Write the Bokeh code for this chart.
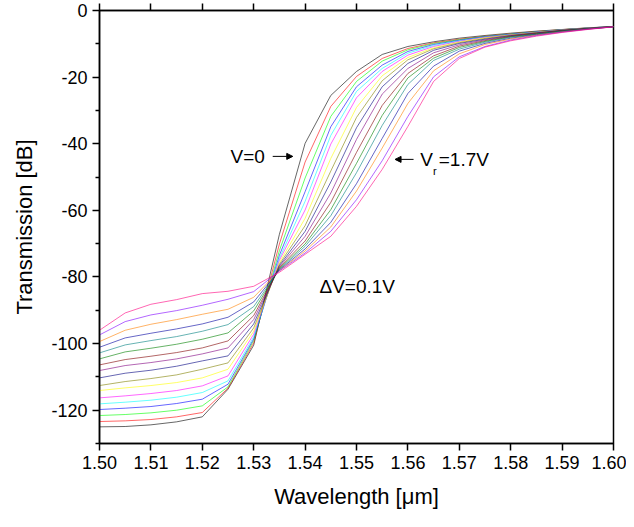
from bokeh.plotting import figure
from bokeh.models import (Range1d, FixedTicker, Arrow, NormalHead, Label, LinearAxis)
from bokeh.embed import file_html
from bokeh.resources import INLINE

# ---------------- data ----------------
wavelength = [1.500, 1.505, 1.510, 1.515, 1.520, 1.525, 1.530, 1.535, 1.540, 1.545,
              1.550, 1.555, 1.560, 1.565, 1.570, 1.575, 1.580, 1.585, 1.590, 1.595, 1.600]

voltages = [0.0, 0.1, 0.2, 0.3, 0.4, 0.5, 0.6, 0.7, 0.8, 0.9, 1.0, 1.1, 1.2, 1.3, 1.4, 1.5, 1.6]

t_v00 = [-125.0, -124.9, -124.4, -123.5, -122.0, -113.7, -100.5, -67.2, -39.9, -25.5, -18.3, -13.2, -10.8, -9.4, -8.3, -7.5, -6.8, -6.2, -5.7, -5.2, -4.8]
t_v01 = [-123.4, -123.2, -122.8, -122.0, -120.7, -113.4, -99.8, -70.1, -45.5, -28.8, -19.8, -14.4, -11.4, -9.7, -8.6, -7.7, -7.0, -6.3, -5.74, -5.25, -4.8]
t_v02 = [-121.6, -121.3, -120.8, -120.0, -118.7, -113.0, -99.1, -72.1, -50.3, -31.8, -21.3, -15.2, -11.8, -9.9, -8.75, -7.76, -7.06, -6.37, -5.77, -5.27, -4.8]
t_v03 = [-119.8, -119.4, -118.9, -118.0, -116.7, -112.2, -98.6, -73.5, -54.4, -34.9, -22.9, -16.4, -12.3, -10.2, -8.93, -7.85, -7.14, -6.43, -5.80, -5.29, -4.8]
t_v04 = [-118.1, -117.6, -117.0, -116.1, -114.7, -111.2, -98.0, -74.4, -57.3, -37.5, -24.3, -17.4, -12.8, -10.5, -9.09, -7.93, -7.20, -6.48, -5.82, -5.30, -4.8]
t_v05 = [-116.3, -115.7, -115.0, -114.1, -112.7, -109.7, -97.2, -75.0, -59.9, -40.1, -26.2, -18.3, -13.4, -10.8, -9.25, -8.02, -7.27, -6.53, -5.85, -5.32, -4.8]
t_v06 = [-114.1, -113.3, -112.6, -111.7, -110.3, -107.7, -96.3, -75.7, -62.4, -44.4, -29.1, -19.6, -14.1, -11.2, -9.46, -8.20, -7.36, -6.60, -5.89, -5.34, -4.85]
t_v07 = [-112.6, -111.4, -110.5, -109.4, -107.7, -105.8, -95.3, -76.2, -64.6, -48.2, -32.1, -21.1, -14.8, -11.5, -9.67, -8.38, -7.45, -6.67, -5.92, -5.36, -4.85]
t_v08 = [-110.3, -108.9, -108.0, -106.8, -105.2, -103.7, -94.1, -76.6, -66.3, -51.5, -35.2, -22.9, -15.9, -11.95, -9.9, -8.60, -7.55, -6.74, -5.96, -5.38, -4.85]
t_v09 = [-108.1, -106.6, -105.7, -104.6, -103.1, -101.3, -92.8, -76.9, -67.8, -54.8, -38.7, -25.1, -17.4, -12.7, -10.3, -8.80, -7.66, -6.83, -6.00, -5.41, -4.85]
t_v10 = [-106.4, -104.8, -103.8, -102.7, -101.3, -99.2, -91.6, -77.2, -69.2, -57.6, -42.6, -28.5, -18.9, -13.6, -10.7, -9.05, -7.79, -6.93, -6.08, -5.44, -4.85]
t_v11 = [-104.6, -102.5, -101.4, -100.2, -98.7, -96.8, -90.2, -77.5, -70.1, -59.8, -45.9, -31.5, -20.25, -14.3, -11.1, -9.28, -7.90, -7.02, -6.14, -5.47, -4.85]
t_v12 = [-102.8, -100.4, -99.1, -97.9, -96.3, -94.3, -88.9, -77.7, -70.8, -61.6, -48.7, -34.5, -22.2, -15.0, -11.6, -9.52, -8.04, -7.12, -6.21, -5.49, -4.9]
t_v13 = [-101.1, -98.3, -96.9, -95.6, -94.1, -92.1, -87.5, -77.9, -71.6, -63.6, -52.0, -38.4, -24.9, -16.7, -12.2, -9.87, -8.32, -7.25, -6.31, -5.54, -4.9]
t_v14 = [-99.4, -96.0, -94.2, -92.8, -91.2, -89.7, -86.1, -78.1, -72.2, -65.0, -54.2, -41.3, -27.9, -18.1, -13.0, -10.2, -8.56, -7.36, -6.38, -5.57, -4.9]
t_v15 = [-97.4, -93.4, -91.4, -90.1, -88.5, -86.7, -84.4, -78.2, -72.8, -66.3, -56.8, -45.1, -31.8, -19.9, -13.9, -10.8, -8.88, -7.52, -6.50, -5.62, -4.9]
t_v16 = [-96.0, -90.8, -88.2, -86.8, -85.0, -84.3, -82.8, -78.6, -73.2, -67.8, -58.8, -47.7, -34.8, -21.3, -14.4, -11.0, -9.10, -7.70, -6.60, -5.70, -4.9]

series = [t_v00, t_v01, t_v02, t_v03, t_v04, t_v05, t_v06, t_v07, t_v08, t_v09,
          t_v10, t_v11, t_v12, t_v13, t_v14, t_v15, t_v16]

colors = ["#000000", "#FF0000", "#00FF00", "#0000FF", "#00FFFF", "#FF00FF", "#FFFF00",
          "#808000", "#000080", "#800080", "#800000", "#008000", "#008080", "#0000A0",
          "#FF8000", "#8000FF", "#FF0080"]

x_ticks = [1.50, 1.51, 1.52, 1.53, 1.54, 1.55, 1.56, 1.57, 1.58, 1.59, 1.60]
y_ticks = [-120, -100, -80, -60, -40, -20, 0]
y_minor = [-130, -110, -90, -70, -50, -30, -10]

FONT = "Liberation Sans"

p = figure(width=626, height=519, output_backend="svg", toolbar_location=None,
           x_range=Range1d(1.5, 1.6), y_range=Range1d(-130, 0),
           min_border_left=99, min_border_right=13, min_border_top=10, min_border_bottom=76)

for ys, c in zip(series, colors):
    p.line(wavelength, ys, line_color=c, line_width=1, line_alpha=0.6)

p.xgrid.visible = False
p.ygrid.visible = False
p.outline_line_color = "black"
p.outline_line_width = 1.5
p.background_fill_color = "white"
p.border_fill_color = "white"

xa = p.xaxis[0]
xa.ticker = FixedTicker(ticks=x_ticks)
xa.major_label_overrides = {t: f"{t:.2f}" for t in x_ticks}
xa.axis_label = "Wavelength [μm]"
ya = p.yaxis[0]
ya.ticker = FixedTicker(ticks=y_ticks, minor_ticks=y_minor)
ya.major_label_overrides = {t: str(t) for t in y_ticks}
ya.axis_label = "Transmission [dB]"

for ax in (xa, ya):
    ax.axis_line_color = "black"
    ax.axis_line_width = 1.5
    ax.major_tick_line_color = "black"
    ax.major_tick_line_width = 1.5
    ax.minor_tick_line_color = "black"
    ax.minor_tick_line_width = 1.5
    ax.major_tick_in = 0
    ax.major_tick_out = 7
    ax.minor_tick_in = 0
    ax.minor_tick_out = 4
    ax.major_label_text_font = FONT
    ax.major_label_text_font_size = "18px"
    ax.major_label_text_color = "black"
    ax.axis_label_text_font = FONT
    ax.axis_label_text_font_size = "22px"
    ax.axis_label_text_font_style = "normal"
    ax.axis_label_text_color = "black"
    ax.major_label_standoff = 5

xa.minor_tick_out = 0
xa.axis_label_standoff = 12
ya.axis_label_standoff = 11

# top axis: ticks only, no labels
top = LinearAxis(ticker=FixedTicker(ticks=x_ticks),
                 major_label_overrides={t: "" for t in x_ticks},
                 major_label_text_font_size="0px", major_label_standoff=0,
                 axis_line_color="black", axis_line_width=1.5,
                 major_tick_line_color="black", major_tick_line_width=1.5,
                 major_tick_in=0, major_tick_out=7, minor_tick_out=0, minor_tick_in=0)
p.add_layout(top, "above")

# annotations
def lab(x, y, text, size="19px", align="left", base="middle"):
    p.add_layout(Label(x=x, y=y, text=text, text_font=FONT, text_font_size=size,
                       text_align=align, text_baseline=base, text_color="black"))

lab(1.5255, -43.8, "V=0")
p.add_layout(Arrow(end=NormalHead(size=6, fill_color="black", line_color="black"),
                   x_start=1.5337, y_start=-43.8, x_end=1.5376, y_end=-43.8,
                   line_color="black", line_width=1))

p.add_layout(Arrow(end=NormalHead(size=6, fill_color="black", line_color="black"),
                   x_start=1.5611, y_start=-44.7, x_end=1.5575, y_end=-44.7,
                   line_color="black", line_width=1))
lab(1.5624, -44.7, "V")
lab(1.5649, -48.3, "r", size="11px")
lab(1.5660, -44.7, "=1.7V")

lab(1.5428, -82.8, "ΔV=0.1V")

html = file_html(p, INLINE)
open("out.html", "w").write(html)
